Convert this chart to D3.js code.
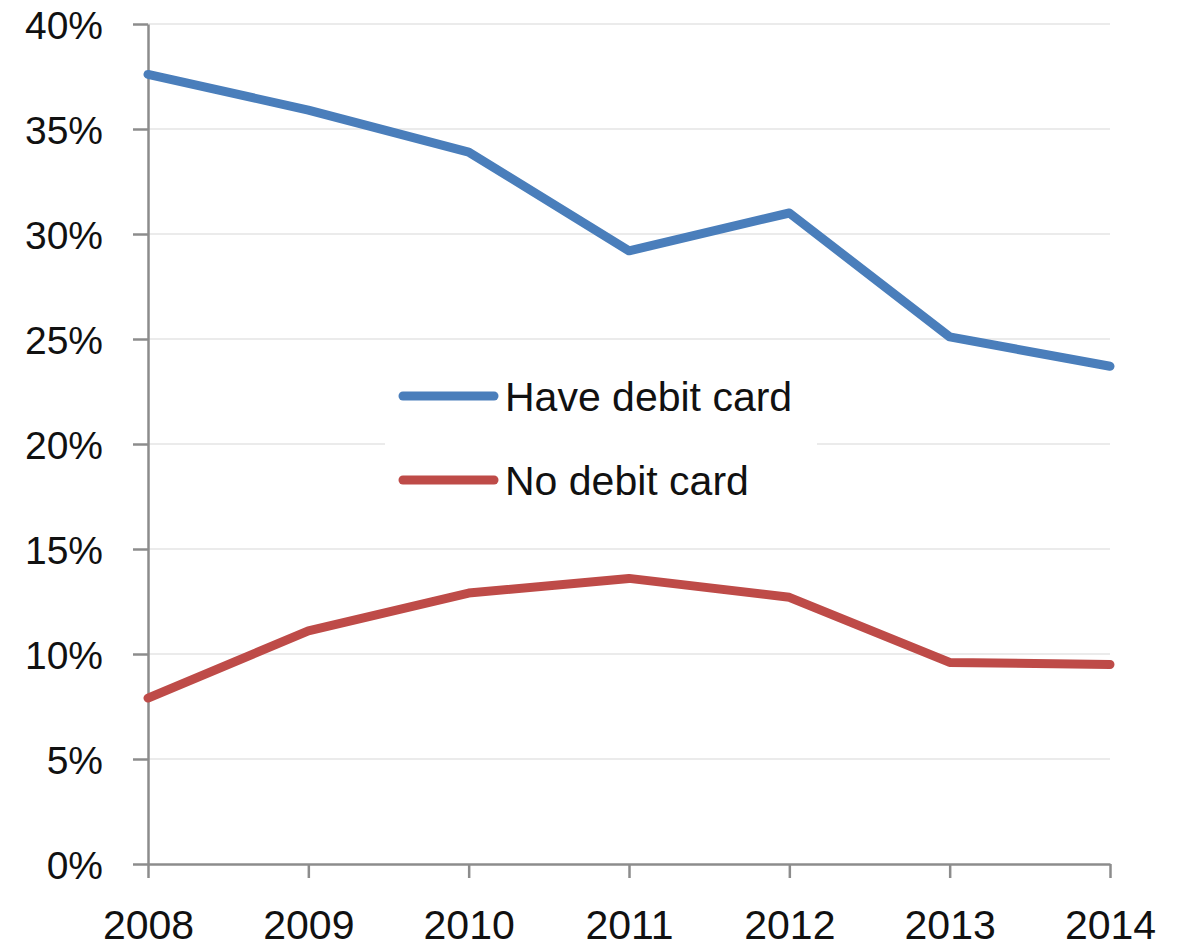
<!DOCTYPE html>
<html>
<head>
<meta charset="utf-8">
<script src="https://cdn.jsdelivr.net/npm/d3@7"></script>
<style>
  html, body { margin: 0; padding: 0; background: #fff; }
  svg { display: block; }
  text { font-family: "Liberation Sans", Arial, sans-serif; fill: #111; }
</style>
</head>
<body>
<svg id="chart" width="1178" height="948"></svg>
<script>
// Share of payments, by debit card ownership
const years = [2008, 2009, 2010, 2011, 2012, 2013, 2014];
const haveDebitCard = [37.6, 35.9, 33.9, 29.2, 31.0, 25.1, 23.7];
const noDebitCard = [7.9, 11.1, 12.9, 13.6, 12.7, 9.6, 9.5];
const yTicks = [0, 5, 10, 15, 20, 25, 30, 35, 40];
const seriesNames = ["Have debit card", "No debit card"];
const seriesColors = ["#4a7ebb", "#be4b48"];

const svg = d3.select("#chart");
const plotLeft = 148, plotRight = 1110, plotTop = 24, plotBottom = 864;

const x = d3.scalePoint().domain(years).range([plotLeft, plotRight]);
const y = d3.scaleLinear().domain([0, 40]).range([plotBottom, plotTop]);

// horizontal gridlines
svg.append("g")
  .selectAll("line")
  .data(yTicks.filter(d => d > 0))
  .join("line")
  .attr("x1", plotLeft).attr("x2", plotRight)
  .attr("y1", d => y(d)).attr("y2", d => y(d))
  .attr("stroke", "#ebebeb").attr("stroke-width", 2);

// y axis
const yAxis = svg.append("g")
  .attr("transform", `translate(${plotLeft},0)`)
  .call(d3.axisLeft(y).tickValues(yTicks).tickFormat(d => d + "%").tickSize(15).tickSizeOuter(0).tickPadding(30));
yAxis.select(".domain").attr("stroke", "#8c8c8c").attr("stroke-width", 2.5);
yAxis.selectAll(".tick line").attr("stroke", "#8c8c8c").attr("stroke-width", 2.5);
yAxis.selectAll(".tick text")
  .style("font-family", "'Liberation Sans', Arial, sans-serif")
  .attr("font-size", 39).attr("fill", "#111").attr("dy", "0.36em");

// x axis
const xAxis = svg.append("g")
  .attr("transform", `translate(0,${plotBottom})`)
  .call(d3.axisBottom(x).tickSize(14).tickSizeOuter(0).tickPadding(32));
xAxis.select(".domain").attr("stroke", "#8c8c8c").attr("stroke-width", 2.5);
xAxis.selectAll(".tick line").attr("stroke", "#8c8c8c").attr("stroke-width", 2.5);
xAxis.selectAll(".tick text")
  .style("font-family", "'Liberation Sans', Arial, sans-serif")
  .attr("font-size", 41).attr("fill", "#111");

// series lines
const line = d3.line().x((d, i) => x(years[i])).y(d => y(d));
[haveDebitCard, noDebitCard].forEach((vals, i) => {
  svg.append("path")
    .datum(vals)
    .attr("d", line)
    .attr("fill", "none")
    .attr("stroke", seriesColors[i])
    .attr("stroke-width", 9)
    .attr("stroke-linejoin", "round")
    .attr("stroke-linecap", "round");
});

// legend
const legend = svg.append("g");
legend.append("rect")
  .attr("x", 385).attr("y", 362).attr("width", 432).attr("height", 156)
  .attr("fill", "#fff");
seriesNames.forEach((name, i) => {
  const ly = 396 + i * 84;
  legend.append("line")
    .attr("x1", 403).attr("x2", 494).attr("y1", ly).attr("y2", ly)
    .attr("stroke", seriesColors[i]).attr("stroke-width", 9)
    .attr("stroke-linecap", "round");
  legend.append("text")
    .attr("x", 505).attr("y", ly).attr("dy", "0.36em")
    .attr("font-size", 41)
    .text(name);
});
</script>
</body>
</html>
